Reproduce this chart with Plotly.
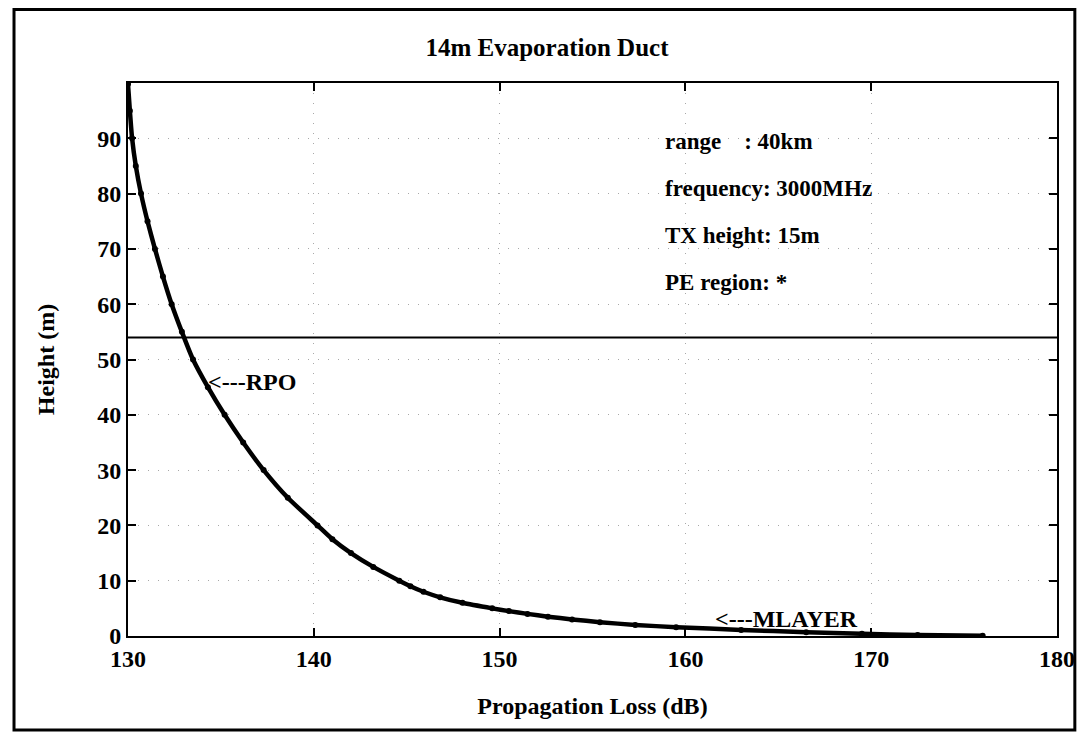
import plotly.graph_objects as go

# Propagation loss (dB) vs height (m)
height_m = [99.8, 95, 90, 85, 80, 75, 70, 65, 60, 55, 50, 45, 40, 35, 30, 25, 20,
            17.5, 15, 12.5, 10, 9, 8, 7, 6, 5, 4.5, 4, 3.5, 3, 2.5, 2, 1.6,
            1.1, 0.7, 0.4, 0.2, 0.05]
loss_db = [130.0, 130.1, 130.22, 130.42, 130.7, 131.05, 131.45, 131.88, 132.35, 132.9,
           133.5, 134.3, 135.2, 136.2, 137.3, 138.6, 140.2,
           141.0, 142.0, 143.2, 144.6, 145.2, 145.9, 146.8, 148.0, 149.6, 150.5,
           151.5, 152.6, 153.9, 155.4, 157.3, 159.5,
           163.0, 166.5, 169.5, 172.5, 176.0]

rpo_height = 54
x_ticks = [130, 140, 150, 160, 170, 180]
y_ticks = [0, 10, 20, 30, 40, 50, 60, 70, 80, 90]

info_lines = ["range\u00a0\u00a0\u00a0\u00a0: 40km", "frequency: 3000MHz",
              "TX height: 15m", "PE region: *"]
info_x = 158.8
info_y = [89.5, 81.0, 72.5, 64.0]

serif = "Liberation Serif, Times New Roman, serif"

def bold_font(size):
    return dict(family=serif, size=size, color="black", weight="bold")

fig = go.Figure()
fig.add_trace(go.Scatter(
    x=loss_db, y=height_m, mode="lines+markers",
    line=dict(color="black", width=4.5, shape="spline", smoothing=0.6),
    marker=dict(color="black", size=6),
    showlegend=False, hoverinfo="skip"))

fig.add_hline(y=rpo_height, line=dict(color="black", width=2))

axis_common = dict(
    showline=True, linecolor="black", linewidth=2, mirror="ticks",
    ticks="inside", ticklen=8, tickwidth=2, tickcolor="black",
    showgrid=True, gridcolor="#a8a8a8", gridwidth=1, griddash="1px,9px",
    zeroline=False,
    tickfont=bold_font(24),
)

fig.update_xaxes(range=[130, 180], tickvals=x_ticks, **axis_common,
                 title=dict(text="Propagation Loss (dB)", standoff=26,
                            font=bold_font(24)))
fig.update_yaxes(range=[0, 100], tickvals=y_ticks, **axis_common,
                 title=dict(text="Height (m)", standoff=36,
                            font=bold_font(24)))

for txt, yy in zip(info_lines, info_y):
    fig.add_annotation(x=info_x, y=yy, text=txt, showarrow=False,
                       xanchor="left", yanchor="middle", font=bold_font(23))

fig.add_annotation(x=134.2, y=46, text="&lt;---RPO", showarrow=False,
                   xanchor="left", yanchor="middle", font=bold_font(24))
fig.add_annotation(x=161.5, y=3.0, text="&lt;---MLAYER", showarrow=False,
                   xanchor="left", yanchor="middle", font=bold_font(24))

# outer frame around the whole figure
fig.add_shape(type="rect", xref="paper", yref="paper",
              x0=-0.1227, x1=1.0192, y0=-0.170, y1=1.1329,
              line=dict(color="black", width=3))

fig.update_layout(
    width=1079, height=727,
    margin=dict(l=120, r=22, t=75, b=99),
    paper_bgcolor="white", plot_bgcolor="white",
    title=dict(text="14m Evaporation Duct", x=0.4995, y=0.946,
               xanchor="center", yanchor="middle", font=bold_font(25)),
)

fig.write_html("out.html")
